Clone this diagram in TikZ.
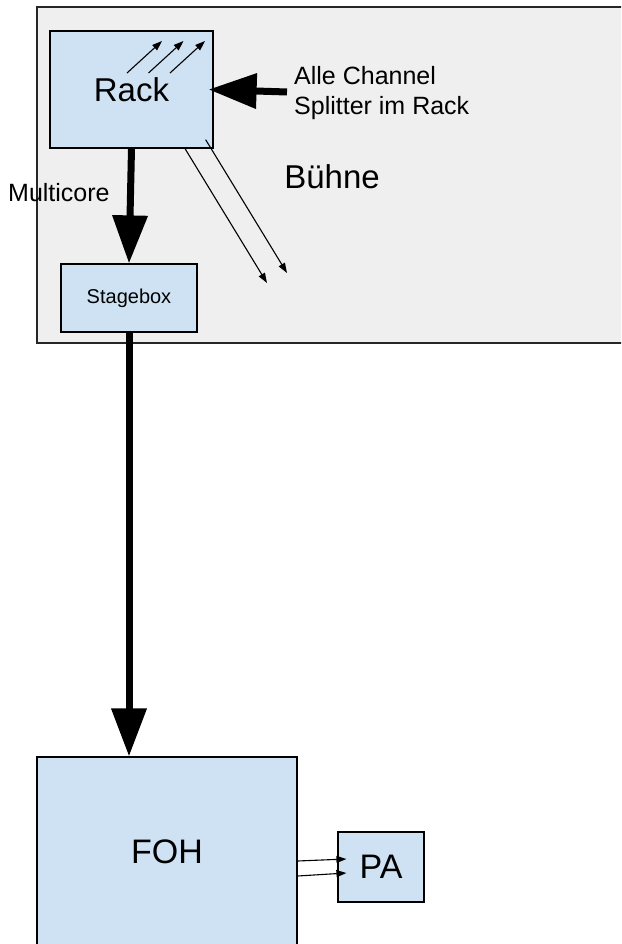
\documentclass[tikz,border=0pt]{standalone}
\usepackage{fontspec}
\setmainfont{Liberation Sans}
\usetikzlibrary{arrows.meta}
\definecolor{boxblue}{RGB}{207,226,243}
\definecolor{stagegray}{RGB}{239,239,239}
\tikzstyle{box} = [draw=black, fill=boxblue, line width=1.2pt, inner sep=0pt]
\tikzstyle{bigarrow} = [line width=7pt, -{Triangle[length=48pt,width=34pt]}]
\tikzstyle{thinarrow} = [line width=1.1pt, -{Triangle[length=10pt,width=7pt]}]

\begin{document}
\begin{tikzpicture}[x=1pt, y=-1pt]
\useasboundingbox (0,0) rectangle (621,944);
\clip (0,0) rectangle (621,944);

% Stage area
\node[draw=black!85, fill=stagegray, line width=1.1pt, minimum width=603pt, minimum height=336pt] (buehne) at (338.5,175) {};
\node[font=\fontsize{33}{40}\selectfont, inner sep=0pt] (buehnelabel) at (332,177) {Bühne};

% Boxes
\node[box, minimum width=163pt, minimum height=117pt, font=\fontsize{33}{40}\selectfont, text depth=-2.5pt] (rack) at (131.5,89.5) {Rack};
\node[box, minimum width=136pt, minimum height=68pt, font=\fontsize{20}{24}\selectfont] (stagebox) at (129,298) {Stagebox};
\node[box, minimum width=260pt, minimum height=190pt, font=\fontsize{34}{40}\selectfont] (foh) at (167,852) {FOH};
\node[box, minimum width=86pt, minimum height=70pt, font=\fontsize{34}{40}\selectfont] (pa) at (381,867) {PA};

% Channel splitter
\coordinate (splitin) at (287,92);
\draw[bigarrow] (splitin) -- ([xshift=-5pt]rack.east);
\node[anchor=west, align=left, inner sep=0pt, font=\fontsize{25}{30}\selectfont] (splitlabel) at (294,93.5) {Alle Channel\\Splitter im Rack};
\foreach \dx in {0,21.5,43}
  \draw[thinarrow] (127+\dx,73) -- (162+\dx,41);

% Outputs on stage
\coordinate (out1) at (267,283);
\coordinate (out2) at (287,273);
\draw[thinarrow] ([xshift=53.5pt]rack.south) -- (out1);
\draw[thinarrow] ([xshift=-8pt,yshift=9pt]rack.south east) -- (out2);

% Multicore
\draw[bigarrow] (rack.south) -- (stagebox.north);
\node[anchor=west, inner sep=0pt, font=\fontsize{25}{30}\selectfont] (multilabel) at (8,193) {Multicore};
\draw[bigarrow] (stagebox.south) -- (stagebox.south |- foh.north);

% FOH to PA
\draw[thinarrow] ([yshift=-9pt]foh.east) -- ([xshift=9pt,yshift=8pt]pa.west);
\draw[thinarrow] ([yshift=-24pt]foh.east) -- ([xshift=9pt,yshift=-6pt]pa.west);
\end{tikzpicture}
\end{document}
